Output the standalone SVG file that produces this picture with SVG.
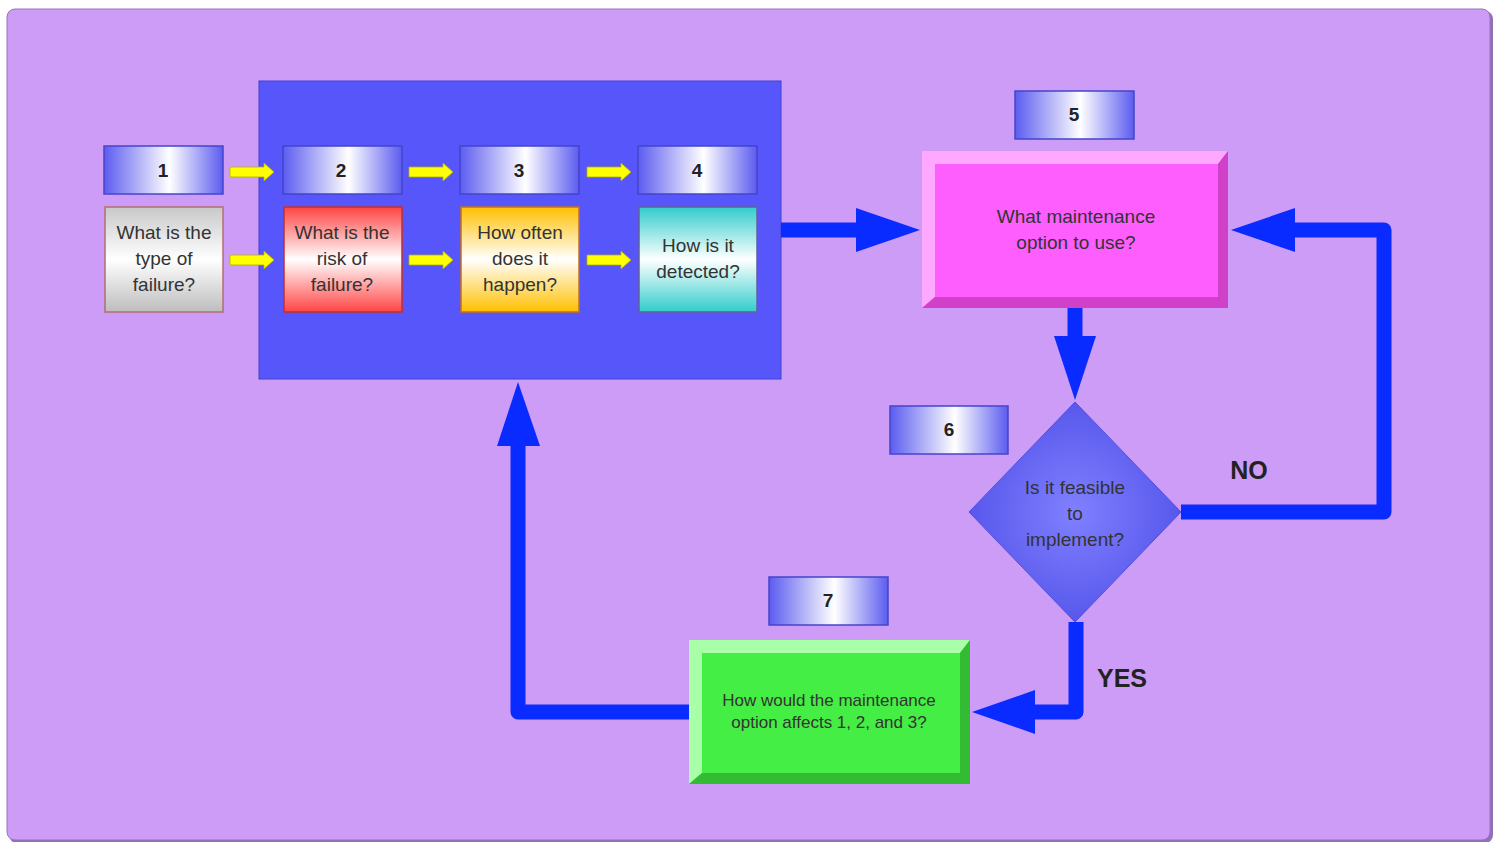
<svg xmlns="http://www.w3.org/2000/svg" width="1499" height="842" viewBox="0 0 1499 842">
<style>
.t{font-family:"Liberation Sans",Arial,sans-serif;font-size:19px;fill:#333;text-anchor:middle}
.n{font-family:"Liberation Sans",Arial,sans-serif;font-size:19px;font-weight:bold;fill:#222;text-anchor:middle}
.lbl{font-family:"Liberation Sans",Arial,sans-serif;font-size:25px;font-weight:bold;fill:#222;text-anchor:middle}
.num{fill:url(#gNum);stroke:#4444CC;stroke-width:1.5}
.conn{fill:none;stroke:#0A2BFF;stroke-width:15;stroke-linejoin:round}
.head{fill:#0A2BFF}
.ya{fill:#FFFF00;stroke:#B0B000;stroke-width:0.8}
</style>
<defs>
<linearGradient id="gNum" x1="0" y1="0" x2="1" y2="0">
<stop offset="0" stop-color="#5C5CF0"/><stop offset="0.55" stop-color="#FFFFFF"/><stop offset="1" stop-color="#5C5CF0"/>
</linearGradient>
<linearGradient id="gGray" x1="0" y1="0" x2="0" y2="1">
<stop offset="0" stop-color="#C8C8C8"/><stop offset="0.5" stop-color="#FFFFFF"/><stop offset="1" stop-color="#BDBDBD"/>
</linearGradient>
<linearGradient id="gRed" x1="0" y1="0" x2="0" y2="1">
<stop offset="0" stop-color="#F44"/><stop offset="0.5" stop-color="#FFFFFF"/><stop offset="1" stop-color="#F44"/>
</linearGradient>
<linearGradient id="gOr" x1="0" y1="0" x2="0" y2="1">
<stop offset="0" stop-color="#FFC000"/><stop offset="0.5" stop-color="#FFFFFF"/><stop offset="1" stop-color="#FFC000"/>
</linearGradient>
<linearGradient id="gCy" x1="0" y1="0" x2="0" y2="1">
<stop offset="0" stop-color="#33CCCC"/><stop offset="0.5" stop-color="#FFFFFF"/><stop offset="1" stop-color="#33CCCC"/>
</linearGradient>
<radialGradient id="gDia" cx="0.5" cy="0.5" r="0.6">
<stop offset="0" stop-color="#8080FF"/><stop offset="1" stop-color="#4F4FE8"/>
</radialGradient>
</defs>

<rect x="0" y="0" width="1499" height="842" fill="#FFFFFF"/>
<rect x="9" y="11" width="1484" height="832" rx="8" fill="#9070B8"/>
<rect x="7" y="9" width="1483" height="831" rx="8" fill="#CC9CF7" stroke="#9474BC" stroke-width="1"/>

<g id="container">
<rect x="259" y="81" width="522" height="298" fill="#5656FA" stroke="#4040D0" stroke-width="1"/>
</g>

<g id="connectors">
<path class="ya" d="M230,167 H264 V163 L274,172 L264,181 V177 H230 Z"/>
<path class="ya" d="M230,255 H264 V251 L274,260 L264,269 V265 H230 Z"/>
<path class="ya" d="M409,167 H443 V163 L453,172 L443,181 V177 H409 Z"/>
<path class="ya" d="M409,255 H443 V251 L453,260 L443,269 V265 H409 Z"/>
<path class="ya" d="M587,167 H621 V163 L631,172 L621,181 V177 H587 Z"/>
<path class="ya" d="M587,255 H621 V251 L631,260 L621,269 V265 H587 Z"/>
<path class="conn" d="M781,230 H860"/>
<path class="head" d="M856,208 L920,230 L856,252 Z"/>
<path class="conn" d="M1075,308 V340"/>
<path class="head" d="M1054,336 L1075,400 L1096,336 Z"/>
<path class="conn" d="M1181,512 H1384 V230 H1290"/>
<path class="head" d="M1295,208 L1231,230 L1295,252 Z"/>
<path class="conn" d="M1076,622 V712 H1030"/>
<path class="head" d="M1035,690 L972,712 L1035,734 Z"/>
<path class="conn" d="M689,712 H518 V440"/>
<path class="head" d="M497,446 L518,382 L540,446 Z"/>
<text class="lbl" x="1249" y="479">NO</text>
<text class="lbl" x="1122" y="687">YES</text>
</g>

<g id="node1">
<rect class="num" x="104" y="146" width="119" height="48"/>
<text class="n" x="163" y="177">1</text>
<rect x="105" y="207" width="118" height="105" fill="url(#gGray)" stroke="#B07070" stroke-width="1.5"/>
<text class="t" x="164" y="239">What is the</text>
<text class="t" x="164" y="265">type of</text>
<text class="t" x="164" y="291">failure?</text>
</g>

<g id="node2">
<rect class="num" x="283" y="146" width="119" height="48"/>
<text class="n" x="341" y="177">2</text>
<rect x="284" y="207" width="118" height="105" fill="url(#gRed)" stroke="#C03030" stroke-width="1.5"/>
<text class="t" x="342" y="239">What is the</text>
<text class="t" x="342" y="265">risk of</text>
<text class="t" x="342" y="291">failure?</text>
</g>

<g id="node3">
<rect class="num" x="460" y="146" width="119" height="48"/>
<text class="n" x="519" y="177">3</text>
<rect x="461" y="207" width="118" height="105" fill="url(#gOr)" stroke="#C07020" stroke-width="1.5"/>
<text class="t" x="520" y="239">How often</text>
<text class="t" x="520" y="265">does it</text>
<text class="t" x="520" y="291">happen?</text>
</g>

<g id="node4">
<rect class="num" x="638" y="146" width="119" height="48"/>
<text class="n" x="697" y="177">4</text>
<rect x="639" y="207" width="118" height="105" fill="url(#gCy)" stroke="#6060A0" stroke-width="1.5"/>
<text class="t" x="698" y="252">How is it</text>
<text class="t" x="698" y="278">detected?</text>
</g>

<g id="node5">
<rect class="num" x="1015" y="91" width="119" height="48"/>
<text class="n" x="1074" y="121">5</text>
<rect x="922" y="151" width="306" height="157" fill="#FF66FF"/>
<path d="M922,151 H1228 L1218,164 H935 V297 L922,308 Z" fill="#FFA8FF"/>
<path d="M1228,151 V308 H922 L935,297 H1218 V164 Z" fill="#D040C8"/>
<rect x="935" y="164" width="283" height="133" fill="#FF5EFF"/>
<text class="t" x="1076" y="223">What maintenance</text>
<text class="t" x="1076" y="249">option to use?</text>
</g>

<g id="node6">
<rect class="num" x="890" y="406" width="118" height="48"/>
<text class="n" x="949" y="436">6</text>
<path d="M1075,402 L1181,512 L1075,622 L969,512 Z" fill="url(#gDia)" stroke="#5050E0" stroke-width="1"/>
<text class="t" x="1075" y="494">Is it feasible</text>
<text class="t" x="1075" y="520">to</text>
<text class="t" x="1075" y="546">implement?</text>
</g>

<g id="node7">
<rect class="num" x="769" y="577" width="119" height="48"/>
<text class="n" x="828" y="607">7</text>
<rect x="689" y="640" width="281" height="144" fill="#44EE44"/>
<path d="M689,640 H970 L960,653 H702 V773 L689,784 Z" fill="#A8FFA8"/>
<path d="M970,640 V784 H689 L702,773 H960 V653 Z" fill="#33BB33"/>
<rect x="702" y="653" width="258" height="120" fill="#44EE44"/>
<text class="t" x="829" y="706" style="font-size:17px">How would the maintenance</text>
<text class="t" x="829" y="728" style="font-size:17px">option affects 1, 2, and 3?</text>
</g>
</svg>
